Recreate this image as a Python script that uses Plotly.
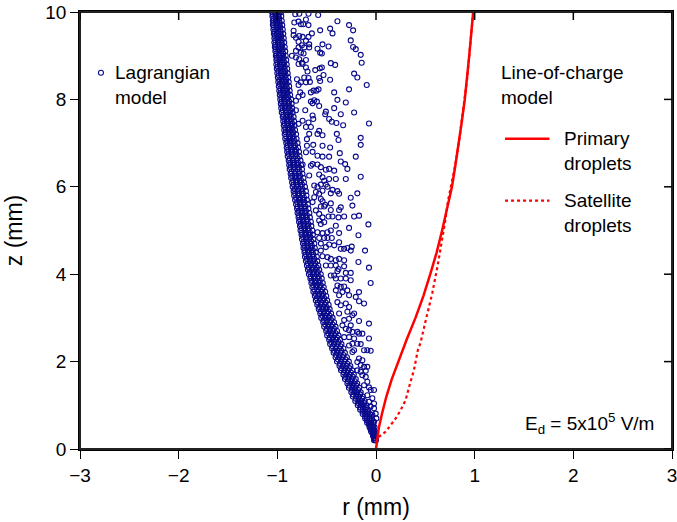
import plotly.graph_objects as go

# ---------------- data ----------------
# Line-of-charge model, primary droplets (r in mm, z in mm)
prim_z = [0, 0.2, 0.5, 0.8, 1.2, 1.6, 2.0, 2.5, 3.0, 3.5, 4.0, 4.5, 5.0, 5.5, 6.0, 6.5, 7.0, 7.5, 8.0, 8.5, 9.0, 9.5, 10.0]
prim_r = [0, 0.01, 0.03, 0.06, 0.105, 0.16, 0.225, 0.31, 0.40, 0.48, 0.55, 0.615, 0.67, 0.72, 0.77, 0.805, 0.84, 0.87, 0.90, 0.925, 0.945, 0.965, 0.985]

# Line-of-charge model, satellite droplets
sat_z = [0.15, 0.28, 0.4, 0.55, 0.7, 0.89, 1.12, 1.54, 1.8, 2.26, 2.42, 3.0, 3.56, 4.2, 4.7, 5.2, 5.68, 6.4, 7.0, 7.5, 8.0, 8.5, 9.0, 9.5, 10.0]
sat_r = [0.0, 0.03, 0.10, 0.15, 0.20, 0.25, 0.30, 0.35, 0.384, 0.424, 0.45, 0.51, 0.57, 0.625, 0.665, 0.70, 0.73, 0.795, 0.84, 0.87, 0.90, 0.925, 0.945, 0.965, 0.985]

# Lagrangian model: dense band of droplets (each row: several droplets at one height)
band_z = [0.2, 0.3, 0.4, 0.5, 0.6, 0.7, 0.8, 0.9, 1.0, 1.1, 1.2, 1.3, 1.4, 1.5, 1.6, 1.7, 1.8, 1.9,
          2.0, 2.1, 2.2, 2.3, 2.4, 2.5, 2.6, 2.7, 2.8, 2.9, 3.0, 3.1, 3.2, 3.3, 3.4, 3.5, 3.6, 3.7,
          3.8, 3.9, 4.0, 4.1, 4.2, 4.3, 4.4, 4.5, 4.6, 4.7, 4.8, 4.9, 5.0, 5.1, 5.2, 5.3, 5.4, 5.5,
          5.6, 5.7, 5.8, 5.9, 6.0, 6.1, 6.2, 6.3, 6.4, 6.5, 6.6, 6.7, 6.8, 6.9, 7.0, 7.1, 7.2, 7.3,
          7.4, 7.5, 7.6, 7.7, 7.8, 7.9, 8.0, 8.1, 8.2, 8.3, 8.4, 8.5, 8.6, 8.7, 8.8, 8.9, 9.0, 9.1,
          9.2, 9.3, 9.4, 9.5, 9.6, 9.7, 9.8, 9.9, 10.0]
band_r = [
    [-0.01, 0.0, -0.02, -0.005], [-0.03, -0.02, -0.005, -0.01], [-0.05, -0.035, -0.02, -0.01],
    [-0.065, -0.05, -0.03, -0.015], [-0.09, -0.07, -0.05, -0.03], [-0.11, -0.09, -0.065, -0.04],
    [-0.135, -0.11, -0.085, -0.06], [-0.16, -0.135, -0.105, -0.08], [-0.185, -0.155, -0.125, -0.095],
    [-0.21, -0.18, -0.15, -0.115], [-0.235, -0.2, -0.17, -0.135], [-0.25, -0.22, -0.19, -0.155],
    [-0.275, -0.24, -0.21, -0.17], [-0.29, -0.26, -0.225, -0.19], [-0.315, -0.28, -0.245, -0.205],
    [-0.33, -0.3, -0.265, -0.225], [-0.355, -0.32, -0.285, -0.24], [-0.37, -0.335, -0.3, -0.26],
    [-0.395, -0.355, -0.32, -0.275], [-0.41, -0.375, -0.34, -0.295], [-0.43, -0.395, -0.36, -0.315],
    [-0.445, -0.41, -0.37, -0.33], [-0.465, -0.425, -0.39, -0.35], [-0.475, -0.44, -0.405, -0.365],
    [-0.495, -0.455, -0.42, -0.38], [-0.505, -0.47, -0.435, -0.395], [-0.525, -0.485, -0.45, -0.41],
    [-0.535, -0.5, -0.465, -0.425], [-0.555, -0.515, -0.48, -0.44], [-0.565, -0.53, -0.495, -0.455],
    [-0.58, -0.545, -0.505, -0.47], [-0.595, -0.56, -0.52, -0.48], [-0.61, -0.57, -0.535, -0.495],
    [-0.62, -0.585, -0.545, -0.505], [-0.635, -0.595, -0.555, -0.515], [-0.645, -0.605, -0.57, -0.53],
    [-0.655, -0.62, -0.58, -0.54], [-0.665, -0.63, -0.59, -0.55], [-0.68, -0.64, -0.6, -0.56],
    [-0.69, -0.65, -0.61, -0.575], [-0.7, -0.66, -0.625, -0.585], [-0.71, -0.67, -0.635, -0.595],
    [-0.72, -0.68, -0.645, -0.6], [-0.725, -0.69, -0.65, -0.61], [-0.735, -0.695, -0.66, -0.62],
    [-0.74, -0.705, -0.665, -0.625], [-0.75, -0.71, -0.675, -0.635], [-0.755, -0.72, -0.68, -0.64],
    [-0.765, -0.725, -0.69, -0.645], [-0.77, -0.735, -0.695, -0.655], [-0.78, -0.74, -0.705, -0.66],
    [-0.785, -0.75, -0.71, -0.67], [-0.795, -0.755, -0.72, -0.675], [-0.8, -0.765, -0.725, -0.685],
    [-0.81, -0.77, -0.735, -0.69], [-0.82, -0.78, -0.74, -0.7], [-0.83, -0.79, -0.75, -0.705],
    [-0.835, -0.795, -0.755, -0.71], [-0.845, -0.805, -0.765, -0.72], [-0.85, -0.81, -0.77, -0.73],
    [-0.86, -0.82, -0.78, -0.735], [-0.865, -0.825, -0.785, -0.745], [-0.875, -0.835, -0.795, -0.75],
    [-0.88, -0.84, -0.8, -0.76], [-0.885, -0.845, -0.805, -0.765], [-0.895, -0.855, -0.815, -0.775],
    [-0.9, -0.86, -0.82, -0.78], [-0.905, -0.865, -0.83, -0.79], [-0.91, -0.875, -0.835, -0.795],
    [-0.92, -0.88, -0.845, -0.805], [-0.925, -0.885, -0.85, -0.81], [-0.93, -0.89, -0.855, -0.82],
    [-0.935, -0.9, -0.86, -0.825], [-0.94, -0.905, -0.865, -0.83], [-0.945, -0.91, -0.875, -0.835],
    [-0.955, -0.915, -0.88, -0.845], [-0.96, -0.925, -0.885, -0.85], [-0.965, -0.93, -0.89, -0.855],
    [-0.97, -0.935, -0.9, -0.86], [-0.975, -0.94, -0.905, -0.87], [-0.98, -0.945, -0.91, -0.875],
    [-0.985, -0.95, -0.915, -0.88], [-0.99, -0.955, -0.92, -0.885], [-0.995, -0.96, -0.925, -0.89],
    [-1.0, -0.965, -0.93, -0.895], [-1.005, -0.97, -0.935, -0.9], [-1.01, -0.975, -0.94, -0.905],
    [-1.01, -0.98, -0.945, -0.91], [-1.015, -0.985, -0.95, -0.915], [-1.02, -0.99, -0.955, -0.92],
    [-1.025, -0.99, -0.96, -0.925], [-1.03, -0.995, -0.96, -0.93], [-1.03, -1.0, -0.965, -0.935],
    [-1.035, -1.005, -0.97, -0.94], [-1.04, -1.01, -0.975, -0.945], [-1.045, -1.01, -0.98, -0.95],
    [-1.045, -1.015, -0.985, -0.955], [-1.05, -1.02, -0.99, -0.96], [-1.055, -1.025, -0.995, -0.96],
]

# Lagrangian model: in-between droplets of the dense band (staggered heights)
band2_z = [0.25, 0.35, 0.45, 0.55, 0.65, 0.75, 0.85, 0.95, 1.05, 1.15, 1.25, 1.35, 1.45, 1.55, 1.65,
           1.75, 1.85, 1.95, 2.05, 2.15, 2.25, 2.35, 2.45, 2.55, 2.65, 2.75, 2.85, 2.95, 3.05, 3.15,
           3.25, 3.35, 3.45, 3.55, 3.65, 3.75, 3.85, 3.95, 4.05, 4.15, 4.25, 4.35, 4.45, 4.55, 4.65,
           4.75, 4.85, 4.95, 5.05, 5.15, 5.25, 5.35, 5.45, 5.55, 5.65, 5.75, 5.85, 5.95, 6.05, 6.15,
           6.25, 6.35, 6.45, 6.55, 6.65, 6.75, 6.85, 6.95, 7.05, 7.15, 7.25, 7.35, 7.45, 7.55, 7.65,
           7.75, 7.85, 7.95, 8.05, 8.15, 8.25, 8.35, 8.45, 8.55, 8.65, 8.75, 8.85, 8.95, 9.05, 9.15,
           9.25, 9.35, 9.45, 9.55, 9.65, 9.75, 9.85, 9.95]
band2_r = [
    [-0.02, -0.015, -0.005], [-0.035, -0.025, -0.015], [-0.055, -0.04, -0.025], [-0.07, -0.05, -0.03],
    [-0.09, -0.07, -0.05], [-0.11, -0.09, -0.065], [-0.135, -0.11, -0.085], [-0.16, -0.13, -0.1],
    [-0.18, -0.15, -0.12], [-0.205, -0.175, -0.14], [-0.23, -0.195, -0.16], [-0.245, -0.215, -0.18],
    [-0.27, -0.235, -0.2], [-0.285, -0.25, -0.215], [-0.31, -0.275, -0.235], [-0.325, -0.29, -0.255],
    [-0.35, -0.31, -0.27], [-0.365, -0.33, -0.29], [-0.385, -0.35, -0.31], [-0.405, -0.37, -0.33],
    [-0.425, -0.39, -0.35], [-0.44, -0.4, -0.36], [-0.455, -0.42, -0.38], [-0.47, -0.435, -0.395],
    [-0.485, -0.45, -0.41], [-0.5, -0.465, -0.425], [-0.515, -0.48, -0.44], [-0.53, -0.495, -0.455],
    [-0.545, -0.51, -0.47], [-0.56, -0.525, -0.485], [-0.575, -0.535, -0.5], [-0.59, -0.55, -0.51],
    [-0.6, -0.565, -0.525], [-0.615, -0.575, -0.535], [-0.625, -0.585, -0.545], [-0.635, -0.6, -0.56],
    [-0.65, -0.61, -0.57], [-0.66, -0.62, -0.58], [-0.67, -0.63, -0.59], [-0.68, -0.64, -0.6],
    [-0.69, -0.655, -0.615], [-0.7, -0.665, -0.625], [-0.71, -0.675, -0.635], [-0.72, -0.68, -0.64],
    [-0.725, -0.69, -0.65], [-0.73, -0.695, -0.655], [-0.74, -0.7, -0.665], [-0.75, -0.71, -0.67],
    [-0.755, -0.72, -0.68], [-0.765, -0.725, -0.685], [-0.77, -0.735, -0.695], [-0.78, -0.74, -0.7],
    [-0.785, -0.75, -0.71], [-0.795, -0.755, -0.715], [-0.8, -0.765, -0.725], [-0.81, -0.77, -0.73],
    [-0.82, -0.78, -0.74], [-0.825, -0.785, -0.745], [-0.835, -0.795, -0.75], [-0.84, -0.8, -0.76],
    [-0.85, -0.81, -0.77], [-0.855, -0.815, -0.775], [-0.865, -0.825, -0.78], [-0.87, -0.83, -0.79],
    [-0.875, -0.835, -0.795], [-0.885, -0.845, -0.805], [-0.89, -0.85, -0.81], [-0.895, -0.86, -0.82],
    [-0.9, -0.865, -0.825], [-0.91, -0.87, -0.835], [-0.915, -0.875, -0.84], [-0.92, -0.88, -0.845],
    [-0.925, -0.89, -0.85], [-0.93, -0.895, -0.855], [-0.94, -0.9, -0.865], [-0.945, -0.905, -0.87],
    [-0.95, -0.915, -0.875], [-0.955, -0.92, -0.88], [-0.96, -0.925, -0.89], [-0.965, -0.93, -0.895],
    [-0.97, -0.935, -0.9], [-0.975, -0.94, -0.905], [-0.98, -0.945, -0.91], [-0.985, -0.95, -0.915],
    [-0.99, -0.955, -0.92], [-0.995, -0.96, -0.925], [-1.0, -0.965, -0.93], [-1.005, -0.97, -0.935],
    [-1.01, -0.975, -0.94], [-1.015, -0.98, -0.945], [-1.02, -0.985, -0.95], [-1.02, -0.99, -0.955],
    [-1.025, -0.99, -0.96], [-1.03, -0.995, -0.965], [-1.035, -1.0, -0.97], [-1.04, -1.005, -0.975],
    [-1.04, -1.01, -0.98], [-1.045, -1.015, -0.985],
]

# Lagrangian model: scattered droplets to the right of the band
scat_r = [
    -0.818, -0.778, -0.684, -0.586, -0.710, -0.761, -0.828, -0.737, -0.785, -0.684, -0.650, -0.566, -0.465,
    -0.441, -0.391, -0.273, -0.232, -0.835, -0.835, -0.811, -0.778, -0.744, -0.684, -0.785, -0.710, -0.677,
    -0.751, -0.785, -0.727, -0.677, -0.542, -0.481, -0.593, -0.566, -0.549, -0.256, -0.232, -0.205, -0.155,
    -0.145, -0.811, -0.761, -0.734, -0.852, -0.811, -0.778, -0.751, -0.710, -0.785, -0.744, -0.710, -0.694,
    -0.616, -0.569, -0.549, -0.458, -0.414, -0.532, -0.576, -0.566, -0.465, -0.222, -0.189, -0.094, -0.273,
    -0.801, -0.727, -0.684, -0.785, -0.761, -0.710, -0.670, -0.633, -0.660, -0.603, -0.582, -0.768, -0.785,
    -0.744, -0.811, -0.626, -0.599, -0.576, -0.660, -0.643, -0.424, -0.391, -0.306, -0.222, -0.424, -0.357,
    -0.515, -0.508, -0.717, -0.643, -0.811, -0.636, -0.744, -0.684, -0.660, -0.710, -0.785, -0.475, -0.448,
    -0.401, -0.333, -0.071, -0.576, -0.593, -0.542, -0.677, -0.700, -0.636, -0.700, -0.542, -0.465, -0.397,
    -0.380, -0.155, -0.155,
    -0.710, -0.643, -0.593, -0.542, -0.475, -0.367, -0.205, -0.744, -0.660, -0.643, -0.593, -0.559, -0.508,
    -0.475, -0.357, -0.313, -0.290, -0.424, -0.155, -0.677, -0.576, -0.542, -0.525, -0.475, -0.407, -0.306,
    -0.626, -0.593, -0.559, -0.542, -0.508, -0.492, -0.441, -0.391, -0.609, -0.576, -0.458, -0.374, -0.189,
    -0.256, -0.626, -0.643, -0.559, -0.542, -0.515, -0.559, -0.525, -0.458, -0.458, -0.374, -0.357, -0.239,
    -0.609, -0.576, -0.542, -0.481, -0.441, -0.380, -0.323, -0.222, -0.172, -0.576, -0.559, -0.525, -0.407,
    -0.273, -0.077, -0.593, -0.542, -0.492, -0.458, -0.374, -0.576, -0.525, -0.492, -0.448, -0.374, -0.178,
    -0.559, -0.508, -0.475, -0.424, -0.357, -0.323, -0.290, -0.246, -0.256, -0.111, -0.559, -0.542, -0.492,
    -0.458, -0.407, -0.374, -0.323, -0.178, -0.508, -0.458, -0.407, -0.380, -0.323, -0.071, -0.458, -0.424,
    -0.391, -0.306, -0.256, -0.407, -0.357, -0.306, -0.256, -0.054, -0.391, -0.357, -0.323, -0.407, -0.340,
    -0.290, -0.374, -0.273, -0.205, -0.172,
    -0.391, -0.357, -0.306, -0.273, -0.172, -0.121, -0.374, -0.290, -0.239, -0.222, -0.273, -0.323, -0.340,
    -0.256, -0.306, -0.273, -0.239, -0.172, -0.071, -0.189, -0.323, -0.273, -0.222, -0.172, -0.138, -0.071,
    -0.239, -0.273, -0.189, -0.155, -0.222, -0.239, -0.121, -0.088, -0.054, -0.172, -0.189, -0.138, -0.155,
    -0.121, -0.088, -0.189, -0.155, -0.104, -0.138, -0.104, -0.088, -0.121, -0.071, -0.054, -0.020, -0.088,
    -0.037, -0.071, -0.020, -0.054, -0.020, -0.003, -0.037, 0.003, -0.020, -0.054,
]
scat_z = [
    9.95, 9.96, 9.96, 9.93, 9.83, 9.72, 9.76, 9.72, 9.78, 9.70, 9.51, 9.58, 9.62,
    9.51, 9.79, 9.70, 9.58, 9.57, 9.47, 9.41, 9.45, 9.43, 9.43, 9.32, 9.34, 9.26,
    9.24, 9.19, 9.19, 9.19, 9.26, 9.21, 9.16, 9.07, 9.05, 9.35, 9.20, 9.15, 9.02,
    8.84, 9.11, 9.07, 9.05, 9.00, 8.96, 8.92, 8.84, 8.90, 8.81, 8.81, 8.73, 8.64,
    8.67, 8.71, 8.73, 8.83, 8.79, 8.56, 8.49, 8.42, 8.45, 8.59, 8.50, 8.33, 8.23,
    8.46, 8.50, 8.49, 8.33, 8.39, 8.39, 8.40, 8.20, 8.16, 8.20, 8.23, 8.16, 8.06,
    8.10, 7.97, 7.98, 7.95, 7.85, 7.95, 7.91, 8.16, 7.99, 7.93, 7.70, 7.80, 7.66,
    7.66, 7.72, 7.75, 7.63, 7.75, 7.55, 7.51, 7.47, 7.37, 7.37, 7.44, 7.55, 7.49,
    7.46, 7.41, 7.45, 7.28, 7.21, 7.18, 7.21, 7.09, 6.96, 6.94, 6.94, 6.90, 7.21,
    7.07, 7.12, 6.96,
    6.79, 6.80, 6.71, 6.69, 6.69, 6.77, 6.69, 6.51, 6.48, 6.52, 6.51, 6.45, 6.39,
    6.41, 6.58, 6.52, 6.41, 6.37, 6.23, 6.26, 6.28, 6.22, 6.14, 6.18, 6.18, 6.18,
    6.03, 6.00, 6.05, 5.91, 6.05, 6.00, 5.93, 5.90, 5.88, 5.84, 5.85, 5.84, 5.85,
    5.75, 5.76, 5.65, 5.72, 5.67, 5.59, 5.55, 5.55, 5.62, 5.47, 5.47, 5.53, 5.57,
    5.46, 5.38, 5.30, 5.32, 5.32, 5.30, 5.32, 5.32, 5.34, 5.23, 5.15, 5.19, 5.11,
    5.06, 5.14, 4.96, 4.94, 4.96, 5.00, 4.94, 4.83, 4.83, 4.83, 4.83, 4.73, 4.89,
    4.70, 4.62, 4.68, 4.66, 4.58, 4.58, 4.60, 4.63, 4.54, 4.54, 4.54, 4.41, 4.39,
    4.35, 4.32, 4.35, 4.32, 4.28, 4.20, 4.20, 4.20, 4.12, 4.18, 4.15, 3.97, 3.97,
    4.07, 4.03, 4.03, 3.90, 3.90, 3.90, 3.86, 3.80, 3.74, 3.71, 3.72, 3.63, 3.59,
    3.63, 3.52, 3.52, 3.48, 3.59,
    3.36, 3.29, 3.33, 3.25, 3.38, 3.33, 3.10, 3.14, 3.06, 3.10, 2.98, 2.95, 2.83,
    2.83, 2.75, 2.72, 2.68, 2.93, 2.87, 2.68, 2.56, 2.56, 2.53, 2.64, 2.64, 2.53,
    2.41, 2.37, 2.41, 2.40, 2.26, 2.22, 2.26, 2.26, 2.25, 2.07, 1.99, 2.03, 1.92,
    1.88, 1.88, 1.80, 1.77, 1.79, 1.69, 1.65, 1.54, 1.46, 1.41, 1.35, 1.35, 1.23,
    1.16, 1.08, 1.04, 0.97, 0.93, 0.81, 0.78, 0.70, 0.62, 0.59,
]

x_ticks = [-3, -2, -1, 0, 1, 2, 3]
y_ticks = [0, 2, 4, 6, 8, 10]

# ---------------- build figure ----------------
lag_r, lag_z = [], []
for zs, rows in ((band_z, band_r), (band2_z, band2_r)):
    for zz, rs in zip(zs, rows):
        for rr in rs:
            lag_r.append(rr)
            lag_z.append(zz)
lag_r += scat_r
lag_z += scat_z

FONT = "Liberation Sans, Arial, sans-serif"
NAVY = "#0a0a8c"
RED = "#ff0000"

fig = go.Figure()
fig.add_trace(go.Scatter(
    x=lag_r, y=lag_z, mode="markers", showlegend=False, hoverinfo="skip",
    marker=dict(symbol="circle-open", size=5, color=NAVY, line=dict(width=1.1, color=NAVY)),
))
fig.add_trace(go.Scatter(
    x=sat_r, y=sat_z, mode="lines", showlegend=False,
    line=dict(color=RED, width=2.2, dash="dot"),
))
fig.add_trace(go.Scatter(
    x=prim_r, y=prim_z, mode="lines", showlegend=False,
    line=dict(color=RED, width=2.5),
))

axis_common = dict(showgrid=False, zeroline=False, showline=True, mirror=True, linecolor="black",
                   linewidth=1.5, tickcolor="black", tickwidth=1, ticklen=8, automargin=False,
                   ticklabeloverflow="allow")

fig.update_layout(
    width=677, height=522,
    margin=dict(l=80, r=5, t=12, b=73),
    paper_bgcolor="white", plot_bgcolor="white",
    font=dict(family=FONT, size=19, color="black"),
    xaxis=dict(range=[-3, 3], tickvals=x_ticks, ticks="outside",
               title=dict(text="r (mm)", standoff=14), **axis_common),
    yaxis=dict(range=[0, 10], tickvals=y_ticks, ticks="outside",
               title=dict(text="z (mm)", standoff=16), **axis_common),
)

# frame of the plotting area
fig.add_shape(type="rect", xref="paper", yref="paper", x0=0, x1=1, y0=0, y1=1,
              line=dict(color="#222222", width=2), layer="above")

# inward-pointing ticks on the top and right frame edges (at the axis tick values)
for tx in x_ticks:
    fig.add_shape(type="line", xref="x", yref="paper", x0=tx, x1=tx,
                  ysizemode="pixel", yanchor=1, y0=0, y1=-8,
                  line=dict(color="black", width=1.5), layer="above")
for ty in y_ticks:
    fig.add_shape(type="line", xref="paper", yref="y", y0=ty, y1=ty,
                  xsizemode="pixel", xanchor=1, x0=0, x1=-8,
                  line=dict(color="black", width=1.5), layer="above")

# legend-like annotations
fig.add_shape(type="circle", xref="paper", yref="paper", xsizemode="pixel", ysizemode="pixel",
              xanchor=0.0354, yanchor=0.861, x0=-2.5, x1=2.5, y0=-2.5, y1=2.5,
              line=dict(color=NAVY, width=1.1))
fig.add_annotation(xref="paper", yref="paper", x=0.0556, y=0.832, xanchor="left", yanchor="middle",
                   text="Lagrangian<br>model", showarrow=False, align="left")
fig.add_annotation(xref="paper", yref="paper", x=0.708, y=0.832, xanchor="left", yanchor="middle",
                   text="Line-of-charge<br>model", showarrow=False, align="left")
fig.add_shape(type="line", xref="paper", yref="paper", x0=0.718, x1=0.793, y0=0.710, y1=0.710,
              line=dict(color=RED, width=2.5))
fig.add_annotation(xref="paper", yref="paper", x=0.8145, y=0.6815, xanchor="left", yanchor="middle",
                   text="Primary<br>droplets", showarrow=False, align="left")
fig.add_shape(type="line", xref="paper", yref="paper", x0=0.718, x1=0.793, y0=0.5685, y1=0.5685,
              line=dict(color=RED, width=2.2, dash="dot"))
fig.add_annotation(xref="paper", yref="paper", x=0.8145, y=0.539, xanchor="left", yanchor="middle",
                   text="Satellite<br>droplets", showarrow=False, align="left")
fig.add_annotation(xref="paper", yref="paper", x=0.973, y=0.059, xanchor="right", yanchor="middle",
                   text="E<sub>d</sub> = 5x10<sup>5</sup> V/m", showarrow=False)

# remove the browser's default 8px page margin so the figure sits at the window's corner
fig.write_html("out.html", config={"displayModeBar": False},
               post_script="document.body.style.margin='0';")
